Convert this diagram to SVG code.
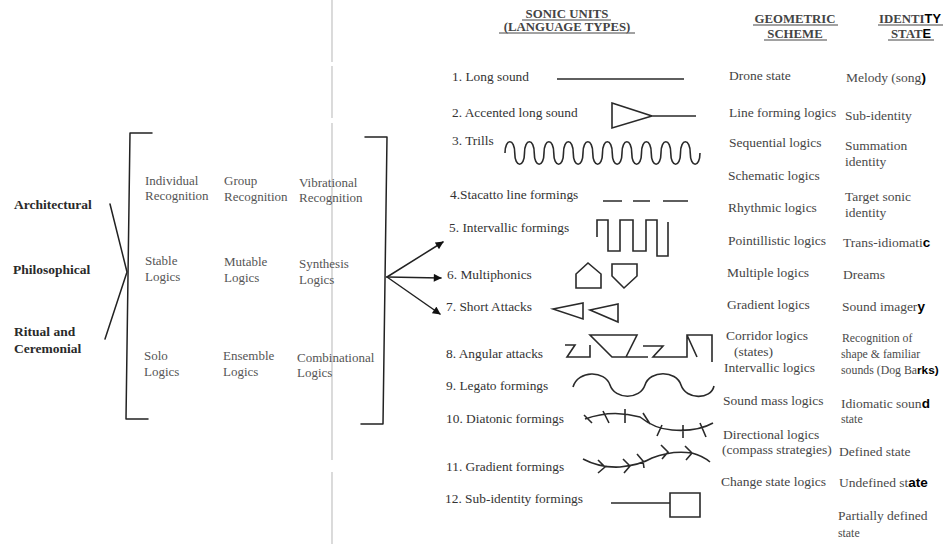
<svg xmlns="http://www.w3.org/2000/svg" width="946" height="544" viewBox="0 0 946 544">
<style>
text{font-family:"Liberation Serif","Times New Roman",serif;fill:#333}
.lab{font-size:13.5px;font-weight:bold;fill:#2a2a2a}
.grid{font-size:13px;fill:#555}
.item{font-size:13.4px;fill:#333}
.geo{font-size:13.5px;fill:#444}
.id{font-size:13.5px;fill:#4a4a4a}
.sm{font-size:11.8px;fill:#4a4a4a}
.hd{font-size:12.8px;font-weight:bold;fill:#444}
.hw{font-family:"Liberation Sans",Arial,sans-serif;font-weight:bold;fill:#000}
.ln{fill:none;stroke:#222;stroke-width:1.5;stroke-linejoin:round;stroke-linecap:round}
.gl{fill:none;stroke:#2a2a2a;stroke-width:1.6;stroke-linejoin:miter}
.ul{stroke:#444;stroke-width:1}
</style>
<defs>
<marker id="ah" viewBox="0 0 10 10" refX="9" refY="5" markerWidth="9" markerHeight="8" orient="auto" markerUnits="userSpaceOnUse">
<path d="M0,0 L10,5 L0,10 Z" fill="#111"/>
</marker>
</defs>

<line x1="332" y1="0" x2="332" y2="544" stroke="#bdbdbd" stroke-width="1.1" stroke-dasharray="62 4 52 5 337 12 72"/>

<g id="left-labels">
<text class="lab" x="14" y="209">Architectural</text>
<text class="lab" x="13" y="274">Philosophical</text>
<text class="lab" x="14" y="336">Ritual and</text>
<text class="lab" x="14" y="353">Ceremonial</text>
</g>

<g id="connectors">
<polyline class="ln" points="110,204 127,272 105,339"/>
<line class="ln" x1="387" y1="277" x2="443" y2="242" marker-end="url(#ah)"/>
<line class="ln" x1="387" y1="277" x2="441" y2="278" marker-end="url(#ah)"/>
<line class="ln" x1="387" y1="277" x2="440" y2="314" marker-end="url(#ah)"/>
</g>

<g id="left-bracket"><polyline class="ln" points="152,133 130,133 126,419 148,419"/></g>
<g id="right-bracket"><polyline class="ln" points="365,137 387,137 383,424 361,424"/></g>

<g id="grid">
<text class="grid" x="145" y="185">Individual</text>
<text class="grid" x="145" y="200">Recognition</text>
<text class="grid" x="224" y="185">Group</text>
<text class="grid" x="224" y="201">Recognition</text>
<text class="grid" x="299" y="187">Vibrational</text>
<text class="grid" x="299" y="202">Recognition</text>
<text class="grid" x="145" y="265">Stable</text>
<text class="grid" x="145" y="281">Logics</text>
<text class="grid" x="224" y="266">Mutable</text>
<text class="grid" x="224" y="282">Logics</text>
<text class="grid" x="299" y="268">Synthesis</text>
<text class="grid" x="299" y="284">Logics</text>
<text class="grid" x="144" y="360">Solo</text>
<text class="grid" x="144" y="376">Logics</text>
<text class="grid" x="223" y="360">Ensemble</text>
<text class="grid" x="223" y="376">Logics</text>
<text class="grid" x="297" y="362">Combinational</text>
<text class="grid" x="297" y="377">Logics</text>
</g>

<g id="headers">
<text class="hd" x="567" y="18" text-anchor="middle">SONIC UNITS</text>
<line class="ul" x1="522" y1="20" x2="611" y2="20"/>
<text class="hd" x="567" y="31" text-anchor="middle">(LANGUAGE TYPES)</text>
<line class="ul" x1="499" y1="33" x2="635" y2="33"/>
<text class="hd" x="795" y="23" text-anchor="middle">GEOMETRIC</text>
<line class="ul" x1="753" y1="25" x2="838" y2="25"/>
<text class="hd" x="795" y="38" text-anchor="middle">SCHEME</text>
<line class="ul" x1="764" y1="40" x2="827" y2="40"/>
<text class="hd" x="910" y="23" text-anchor="middle">IDENTI<tspan class="hw">TY</tspan></text>
<line class="ul" x1="878" y1="25" x2="943" y2="25"/>
<text class="hd" x="911" y="38" text-anchor="middle">STAT<tspan class="hw">E</tspan></text>
<line class="ul" x1="888" y1="40" x2="934" y2="40"/>
</g>

<g id="sonic-units">
<text class="item" x="452" y="81">1. Long sound</text>
<text class="item" x="452" y="117">2. Accented long sound</text>
<text class="item" x="452" y="145">3. Trills</text>
<text class="item" x="450" y="199">4.Stacatto line formings</text>
<text class="item" x="449" y="232">5. Intervallic formings</text>
<text class="item" x="447" y="279">6. Multiphonics</text>
<text class="item" x="446" y="311">7. Short Attacks</text>
<text class="item" x="446" y="358">8. Angular attacks</text>
<text class="item" x="446" y="390">9. Legato formings</text>
<text class="item" x="446" y="423">10. Diatonic formings</text>
<text class="item" x="446" y="471">11. Gradient formings</text>
<text class="item" x="445" y="503">12. Sub-identity formings</text>
</g>

<g id="glyphs">
<line class="gl" x1="557" y1="79" x2="684" y2="79"/>
<path class="gl" d="M612,103 L652,116 L612,128 Z M652,116 H696"/>
<path class="gl" d="M505,153 c0,-15 9.75,-15 9.75,0 c0,15 9.75,15 9.75,0 c0,-15 9.75,-15 9.75,0 c0,15 9.75,15 9.75,0 c0,-15 9.75,-15 9.75,0 c0,15 9.75,15 9.75,0 c0,-15 9.75,-15 9.75,0 c0,15 9.75,15 9.75,0 c0,-15 9.75,-15 9.75,0 c0,15 9.75,15 9.75,0 c0,-15 9.75,-15 9.75,0 c0,15 9.75,15 9.75,0 c0,-15 9.75,-15 9.75,0 c0,15 9.75,15 9.75,0 c0,-15 9.75,-15 9.75,0 c0,15 9.75,15 9.75,0 c0,-15 9.75,-15 9.75,0 c0,15 9.75,15 9.75,0 c0,-15 9.75,-15 9.75,0 c0,15 9.75,15 9.75,0"/>
<path class="gl" d="M603,201 H622 M633,201 H650 M663,201 H688"/>
<path class="gl" d="M597,237 V220 H608 V251 H620 V220 H633 V251 H646 V220 H657 V256 H668 V222"/>
<path class="gl" d="M576,288 V274 L588,263 L601,274 V288 Z M612,264 H637 V276 L624,288 L612,276 Z"/>
<path class="gl" d="M553,309 L583,303 V319 Z M590,310 L618,304 V322 Z"/>
<path class="gl" d="M565,345 H575 L567,357 H590 V345 M590,335 H637 L626,357 H612 Z M626,357 H648 M643,346 H663 L653,357 H687 V335 H712 V362 M687,335 L697,357"/>
<path class="gl" d="M573,387 C578,370 605,370 610,385 C615,400 640,400 645,385 C650,370 676,370 681,385 C686,400 711,400 714,386"/>
<path class="gl" d="M585,419 Q612,409 640,417 Q655,429 672,430 Q697,432 713,423 M584,415 L592,423 M603,411 L609,423 M625,409 V423 M643,413 L650,424 M662,425 L657,436 M683,425 V438 M700,423 L706,437"/>
<path class="gl" d="M583,459 Q600,468 620,467 Q640,465 652,458 Q672,450 692,453 Q703,456 710,462 M598,460 L605,467 L598,473 M623,459 L630,466 L624,473 M637,454 L643,461 L644,468 M661,445 L668,452 L662,459 M685,446 L692,453 L686,460"/>
<path class="gl" d="M611,503 H670 M670,493 H700 V517 H670 Z"/>
</g>

<g id="geometric-scheme">
<text class="geo" x="729" y="80">Drone state</text>
<text class="geo" x="729" y="117">Line forming logics</text>
<text class="geo" x="729" y="147">Sequential logics</text>
<text class="geo" x="728" y="180">Schematic logics</text>
<text class="geo" x="728" y="212">Rhythmic logics</text>
<text class="geo" x="728" y="245">Pointillistic logics</text>
<text class="geo" x="727" y="277">Multiple logics</text>
<text class="geo" x="727" y="309">Gradient logics</text>
<text class="geo" x="726" y="340">Corridor logics</text>
<text class="geo" x="734" y="356">(states)</text>
<text class="geo" x="724" y="372">Intervallic logics</text>
<text class="geo" x="723" y="405">Sound mass logics</text>
<text class="geo" x="723" y="439">Directional logics</text>
<text class="geo" x="722" y="454">(compass strategies)</text>
<text class="geo" x="721" y="486">Change state logics</text>
</g>

<g id="identity-state">
<text class="id" x="846" y="82">Melody (song<tspan class="hw">)</tspan></text>
<text class="id" x="845" y="120">Sub-identity</text>
<text class="id" x="845" y="150">Summation</text>
<text class="id" x="845" y="166">identity</text>
<text class="id" x="845" y="201">Target sonic</text>
<text class="id" x="845" y="217">identity</text>
<text class="id" x="843" y="247">Trans-idiomati<tspan class="hw">c</tspan></text>
<text class="id" x="843" y="279">Dreams</text>
<text class="id" x="842" y="311">Sound imager<tspan class="hw">y</tspan></text>
<text class="sm" x="842" y="342">Recognition of</text>
<text class="sm" x="841" y="358">shape &amp; familiar</text>
<text class="sm" x="841" y="374">sounds (Dog Ba<tspan class="hw">rks)</tspan></text>
<text class="id" x="841" y="408">Idiomatic soun<tspan class="hw">d</tspan></text>
<text class="sm" x="841" y="423">state</text>
<text class="id" x="839" y="456">Defined state</text>
<text class="id" x="839" y="487">Undefined st<tspan class="hw">ate</tspan></text>
<text class="id" x="838" y="520">Partially defined</text>
<text class="sm" x="838" y="537">state</text>
</g>
</svg>
